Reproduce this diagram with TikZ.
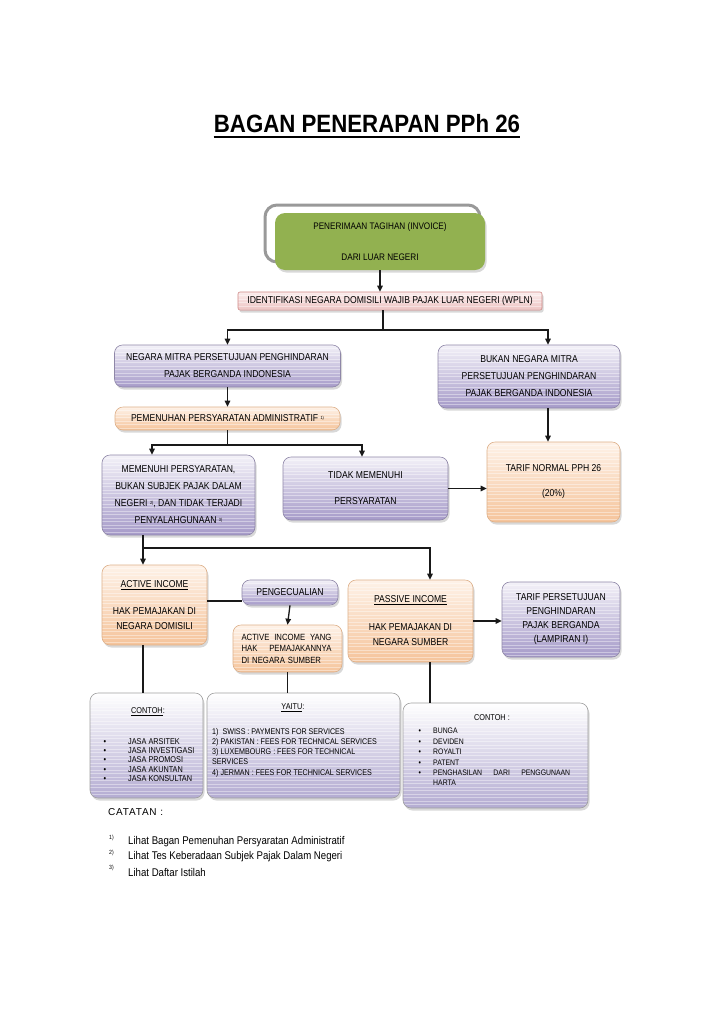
\documentclass[tikz,border=0pt]{standalone}
\usepackage{fontspec}
\setmainfont{Liberation Sans}
\newfontfamily\nf[FakeStretch=0.86]{Liberation Sans}
\newfontfamily\tf[FakeStretch=0.89, UprightFont={* Bold}]{Liberation Sans}
\usetikzlibrary{arrows.meta,shadows}
\definecolor{grn}{HTML}{92B150}
\definecolor{purT}{HTML}{F3F1F8}
\definecolor{purB}{HTML}{A69BC9}
\definecolor{purE}{HTML}{8F87A8}
\definecolor{orT}{HTML}{FEF2E8}
\definecolor{orB}{HTML}{F5C49B}
\definecolor{orE}{HTML}{DDB08A}
\definecolor{pkT}{HTML}{FBEDED}
\definecolor{pkB}{HTML}{EDC3C2}
\definecolor{pkE}{HTML}{CF8886}
\definecolor{cB}{HTML}{B4ACD2}
\newcommand\supr[1]{\raisebox{2.5pt}{\fontsize{4.5}{5}\selectfont #1}}
\newcommand\fz[2]{\nf\fontsize{#1}{#2}\selectfont}
\tikzset{
  box/.style={rounded corners=8pt, inner sep=0pt, align=center, line width=0.6pt,
    drop shadow={shadow xshift=1.5pt, shadow yshift=-2.5pt, opacity=0.3},
    path picture={\foreach \k in {1,...,40}{\draw[white, opacity=0.4, line width=0.9pt]
      ([yshift={-\k*3.5pt}]path picture bounding box.north west) -- ([yshift={-\k*3.5pt}]path picture bounding box.north east);}}},
  purp/.style={box, draw=purE, top color=purT, bottom color=purB},
  oran/.style={box, draw=orE, top color=orT, bottom color=orB},
  pink/.style={box, rounded corners=2pt, draw=pkE, top color=pkT, bottom color=pkB},
  cbox/.style={box, draw=gray!75, top color=white, bottom color=cB},
  arr/.style={-{Triangle[length=6pt,width=5.5pt]}, line width=1.3pt, draw=black!90},
  ln/.style={line width=1.3pt, draw=black!90},
  txt/.style={inner sep=0pt}
}
\begin{document}
\begin{tikzpicture}[x=1pt,y=-1pt]
\fill[white] (0,0) rectangle (728,1031);
\useasboundingbox (0,0) rectangle (728,1031);

% title
\node[anchor=base, txt, font=\tf\fontsize{25}{30}\selectfont] (title) at (367,132) {BAGAN PENERAPAN PPh 26};
\draw[line width=1.8pt] ([yshift=-5pt]title.base west) -- ([yshift=-5pt]title.base east);

% top
\draw[line width=3pt, draw=gray!80, rounded corners=12pt] (265,205) rectangle (480,262);
\node[rounded corners=10pt, fill=grn, minimum width=210pt, minimum height=57pt, inner sep=0pt, align=center,
  drop shadow={shadow xshift=1.5pt, shadow yshift=-2.5pt, opacity=0.3}, font={\fz{9.5}{31}}] (inv) at (380,241.5)
  {PENERIMAAN TAGIHAN (INVOICE)\\DARI LUAR NEGERI};
\node[pink, minimum width=304pt, minimum height=18pt, font={\fz{10}{12}}] (id) at (390,301)
  {IDENTIFIKASI NEGARA DOMISILI WAJIB PAJAK LUAR NEGERI (WPLN)};

\node[purp, minimum width=226pt, minimum height=42pt, font={\fz{10}{17}}] (nm) at (227.5,366)
  {NEGARA MITRA PERSETUJUAN PENGHINDARAN\\PAJAK BERGANDA INDONESIA};
\node[purp, minimum width=182pt, minimum height=63pt, font={\fz{10}{17}}] (bk) at (529,376.5)
  {BUKAN NEGARA MITRA\\PERSETUJUAN PENGHINDARAN\\PAJAK BERGANDA INDONESIA};
\node[oran, minimum width=225pt, minimum height=23pt, font={\fz{10}{12}}] (pem) at (227.5,418.5)
  {PEMENUHAN PERSYARATAN ADMINISTRATIF \supr{1)}};

\node[purp, minimum width=153pt, minimum height=80pt, font={\fz{10}{17}}] (mem) at (178.5,495)
  {MEMENUHI PERSYARATAN,\\BUKAN SUBJEK PAJAK DALAM\\NEGERI \supr{2)}, DAN TIDAK TERJADI\\PENYALAHGUNAAN \supr{3)}};
\node[purp, minimum width=165pt, minimum height=63pt, font={\fz{10}{26}}] (td) at (365.5,488.5)
  {TIDAK MEMENUHI\\PERSYARATAN};
\node[oran, minimum width=133pt, minimum height=80pt, font={\fz{10}{25}}] (tn) at (553.5,482)
  {TARIF NORMAL PPH 26\\(20\%)};

\node[oran, minimum width=105pt, minimum height=80pt, font={\fz{10}{15}}] (act) at (154.5,605)
  {\underline{ACTIVE INCOME}\\[12pt]HAK PEMAJAKAN DI\\NEGARA DOMISILI};
\node[purp, minimum width=96pt, minimum height=25pt, font={\fz{10}{12}}] (peng) at (290,592.5) {PENGECUALIAN};
\node[oran, minimum width=109pt, minimum height=47pt, font={\fz{9}{11.5}}, align=left, text width=92pt] (aiy) at (287.5,648.5)
  {\makebox[90pt][s]{ACTIVE\hfill INCOME\hfill YANG}\\\makebox[90pt][s]{HAK\hfill PEMAJAKANNYA}\\DI NEGARA SUMBER};
\node[oran, minimum width=125pt, minimum height=82pt, font={\fz{10}{15}}] (pas) at (410.5,621)
  {\underline{PASSIVE INCOME}\\[13pt]HAK PEMAJAKAN DI\\NEGARA SUMBER};
\node[purp, minimum width=118pt, minimum height=75pt, font={\fz{10}{14}}] (tp) at (561,619.5)
  {TARIF PERSETUJUAN\\PENGHINDARAN\\PAJAK BERGANDA\\(LAMPIRAN I)};

% bottom boxes
\node[cbox, minimum width=113pt, minimum height=105pt] (c1) at (146.5,745.5) {};
\node[cbox, minimum width=193pt, minimum height=105pt] (ya) at (303.5,745.5) {};
\node[cbox, minimum width=185pt, minimum height=105pt] (c2) at (495.5,755.5) {};

\node[txt, font={\fz{8.5}{10}}] (c1t) at (148,712) {\underline{CONTOH}:};
\node[txt, font={\fz{8.5}{9.2}}, anchor=west, align=left] (c1l) at (103.5,760)
  {\makebox[24.5pt][l]{\textbullet}JASA ARSITEK\\\makebox[24.5pt][l]{\textbullet}JASA INVESTIGASI\\\makebox[24.5pt][l]{\textbullet}JASA PROMOSI\\\makebox[24.5pt][l]{\textbullet}JASA AKUNTAN\\\makebox[24.5pt][l]{\textbullet}JASA KONSULTAN};

\node[txt, font={\fz{8.5}{10}}] (yat) at (293,708) {\underline{YAITU}:};
\node[txt, font={\fz{8.3}{10.2}}, anchor=west, align=left] (yal) at (212,752.5)
  {1)\ \ SWISS : PAYMENTS FOR SERVICES\\2) PAKISTAN : FEES FOR TECHNICAL SERVICES\\3) LUXEMBOURG : FEES FOR TECHNICAL\\SERVICES\\4) JERMAN : FEES FOR TECHNICAL SERVICES};

\node[txt, font={\fz{8.5}{10}}] (c2t) at (492,718) {CONTOH :};
\node[txt, font={\fz{8}{10.4}}, anchor=west, align=left] (c2l) at (418.5,757)
  {\makebox[14.5pt][l]{\textbullet}BUNGA\\\makebox[14.5pt][l]{\textbullet}DEVIDEN\\\makebox[14.5pt][l]{\textbullet}ROYALTI\\\makebox[14.5pt][l]{\textbullet}PATENT\\\makebox[14.5pt][l]{\textbullet}\makebox[137pt][s]{PENGHASILAN\hfill DARI\hfill PENGGUNAAN}\\\makebox[14.5pt][l]{}HARTA};

% notes
\node[anchor=west, txt, font={\fontsize{10}{12}\selectfont\addfontfeature{LetterSpace=8}}] (cat) at (108,812) {CATATAN :};
\node[anchor=west, txt, font={\fz{6}{7}}] (n1s) at (109,838) {1)};
\node[anchor=west, txt, font={\fz{6}{7}}] (n2s) at (109,853) {2)};
\node[anchor=west, txt, font={\fz{6}{7}}] (n3s) at (109,868) {3)};
\node[anchor=west, txt, font={\fz{11.2}{14}}] (n1) at (128,842) {Lihat Bagan Pemenuhan Persyaratan Administratif};
\node[anchor=west, txt, font={\fz{11.2}{14}}] (n2) at (128,857) {Lihat Tes Keberadaan Subjek Pajak Dalam Negeri};
\node[anchor=west, txt, font={\fz{11.2}{14}}] (n3) at (128,872) {Lihat Daftar Istilah};

% connectors
\coordinate (j1) at (383,330);
\coordinate (jr) at (548,330);
\draw[arr] (inv.south) -- (inv.south |- id.north);
\draw[ln] (id.south -| j1) -- (j1);
\draw[arr] (j1) -| (nm.north);
\draw[arr] (j1) -| (bk.north -| jr);
\draw[arr] (bk.south -| jr) -- (tn.north -| jr);
\draw[arr] (nm.south) -- (pem.north);
\coordinate (j2) at (227.5,445);
\coordinate (xm) at (152,0);
\coordinate (xt) at (362,0);
\draw[ln] (pem.south) -- (j2);
\draw[arr] (j2) -| (mem.north -| xm);
\draw[arr] (j2) -| (td.north -| xt);
\draw[arr] (td.east) -- (td.east -| tn.west);
\coordinate (x3) at (143,0);
\coordinate (x4) at (430,0);
\coordinate (j3) at (143,548);
\draw[ln] (mem.south -| x3) -- (j3);
\draw[arr] (j3) -- (act.north -| x3);
\draw[arr] (j3) -| (pas.north -| x4);
\draw[ln] ([yshift=4pt]act.east) coordinate (p1) -- (p1 -| peng.west);
\draw[arr] (peng.south) -- (aiy.north);
\draw[arr] (pas.east) -- (pas.east -| tp.west);
\draw[ln] (act.south -| x3) -- (c1.north -| x3);
\draw[ln] (aiy.south) -- (aiy.south |- ya.north);
\draw[ln] (pas.south -| x4) -- (c2.north -| x4);
\end{tikzpicture}
\end{document}
